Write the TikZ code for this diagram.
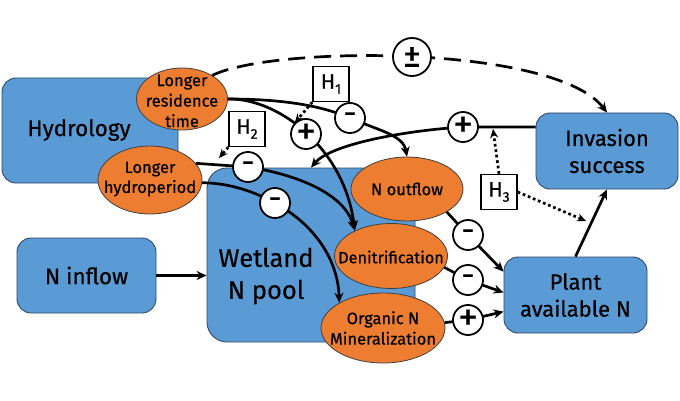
\documentclass[tikz,border=0pt]{standalone}
\usepackage{fontspec}
\setmainfont{Fira Sans}[FakeBold=0.5]
\usetikzlibrary{arrows.meta,calc,shapes.geometric}
\definecolor{boxblue}{HTML}{5B9BD5}
\definecolor{ellorange}{HTML}{ED7D31}
\definecolor{boxedge}{HTML}{2F4A66}
\pgfdeclarelayer{base}
\pgfdeclarelayer{conn}
\pgfsetlayers{base,conn,main}
\newcommand{\fs}[2]{\fontsize{#1}{#2}\selectfont}
\newcommand{\hlab}[1]{H\raisebox{-0.45ex}{\fs{14}{14}#1}}
\begin{document}
\begin{tikzpicture}[x=1pt,y=-1pt,
 box/.style={draw=boxedge, line width=0.9pt, fill=boxblue, rounded corners=14pt, inner sep=0pt},
 ell/.style={ellipse, draw=black!75, line width=0.8pt, fill=ellorange, inner sep=0pt},
 sign/.style={circle, draw=black, line width=1.8pt, fill=white, minimum size=30pt, inner sep=0pt, font=\fs{32}{32}},
 plussign/.style={sign, font=\fs{40}{40}},
 hbox/.style={draw=black, line width=1.4pt, fill=white, minimum width=36pt, minimum height=35pt, inner sep=0pt, font=\fs{21}{21}},
 conn/.style={line width=2.7pt, -{Stealth[length=10pt,width=9pt]}},
 dotconn/.style={line width=2.7pt, dash pattern=on 2.7pt off 2.8pt, -{Stealth[length=9pt,width=8pt]}},
 dashconn/.style={line width=2.7pt, dash pattern=on 17pt off 9pt, -{Stealth[length=10pt,width=9pt]}},
 lab/.style={inner sep=0pt, align=center}
]
\useasboundingbox (0,0) rectangle (680,401);
\begin{pgfonlayer}{base}
% boxes
\node[box, minimum width=176pt, minimum height=105pt] (hyd) at (90,130.5) {};
\node[lab, font=\fs{22.5}{27}] (hydt) at (79,130) {Hydrology};
\node[box, rounded corners=20pt, minimum width=208pt, minimum height=174pt] (wet) at (311,255) {};
\node[lab, font=\fs{25.5}{32}] (wett) at (266,276) {Wetland\\N pool};
\node[box, minimum width=139pt, minimum height=75pt, font=\fs{22.5}{27}] (nin) at (86.5,275.5) {N inflow};
\node[box, minimum width=143pt, minimum height=76pt, font=\fs{22}{27}, align=center] (plant) at (575.5,295) {Plant\\available N};
\node[box, minimum width=142pt, minimum height=76pt, font=\fs{22}{27}, align=center] (inv) at (607,151) {Invasion\\success};
% ellipses
\node[ell, minimum width=91pt, minimum height=62pt] (rt) at (182,99) {};
\node[lab, font=\fs{16.5}{20.5}] (rtt) at (182,101) {Longer\\residence\\time};
\node[ell, minimum width=104pt, minimum height=68pt] (hp) at (150,180) {};
\node[lab, font=\fs{16.5}{20}] (hpt) at (150,179) {Longer\\hydroperiod};
\node[ell, minimum width=112pt, minimum height=64pt] (nout) at (407,189) {};
\node[lab, font=\fs{16.5}{20}] (noutt) at (407,189) {N outflow};
\node[ell, minimum width=113pt, minimum height=65pt] (den) at (391,256) {};
\node[lab, font=\fs{16.3}{20}] (dent) at (391,257) {Denitrification};
\node[ell, minimum width=124pt, minimum height=70pt] (min) at (383,328) {};
\node[lab, font=\fs{16.5}{20.5}] (mint) at (383,328) {Organic N\\Mineralization};
\end{pgfonlayer}
% signs
\node[sign, minimum size=38pt, font=\fs{36}{36}] (pm) at (412,57) {±};
\node[plussign] (p1) at (306,134) {+};
\node[sign] (m1) at (350,118) {-};
\node[plussign] (p2) at (463,127) {+};
\node[sign] (m2) at (248,167) {-};
\node[sign] (m3) at (275,203) {-};
\node[sign] (m4) at (468,235) {-};
\node[sign] (m5) at (468,280) {-};
\node[plussign] (p3) at (468,320) {+};
% hypothesis boxes
\node[hbox] (h1) at (331,84) {\hlab{1}};
\node[hbox] (h2) at (247,129) {\hlab{2}};
\node[hbox] (h3) at (499,192) {\hlab{3}};
\coordinate (h2t) at (219,158);
\coordinate (h3t) at (493,129);
\coordinate (h3u) at (586,221);
\begin{pgfonlayer}{conn}
\draw[dashconn] (rt.38) .. controls (275,45) and (555,45) .. (inv.north);
\draw[conn] (rt.east) .. controls (280,98) and (345,150) .. (den.145);
\draw[conn] (rt.east) .. controls (280,99) and (320,105) .. (m1.center) .. controls (380,131) and (403,135) .. (nout.north);
\draw[conn] (inv.west |- p2) -- (p2.center) .. controls (400,131) and (330,145) .. (wet.north);
\draw[conn] (hp.20) -- (m2.center) .. controls (300,175) and (345,195) .. (den.145);
\draw[conn] (hp.-3) .. controls (230,183) and (255,192) .. (m3.center) .. controls (315,225) and (338,260) .. (min.150);
\draw[conn] (nout.-30) -- (m4.center) -- (plant.162);
\draw[conn] (den.-12) -- (m5.center) -- (plant.178);
\draw[conn] (min.5) -- (p3.center) -- (plant.-167);
\draw[conn] (nin.east) -- (nin.east -| wet.west);
\draw[conn] (plant.north) -- (inv.south);
\draw[dotconn] (h1.south west) -- (p1.135);
\draw[dotconn] (h2.south west) -- (h2t);
\draw[dotconn] (h3.north) -- (h3t);
\draw[dotconn] (h3.east) -- (h3u);
\end{pgfonlayer}
\end{tikzpicture}
\end{document}
